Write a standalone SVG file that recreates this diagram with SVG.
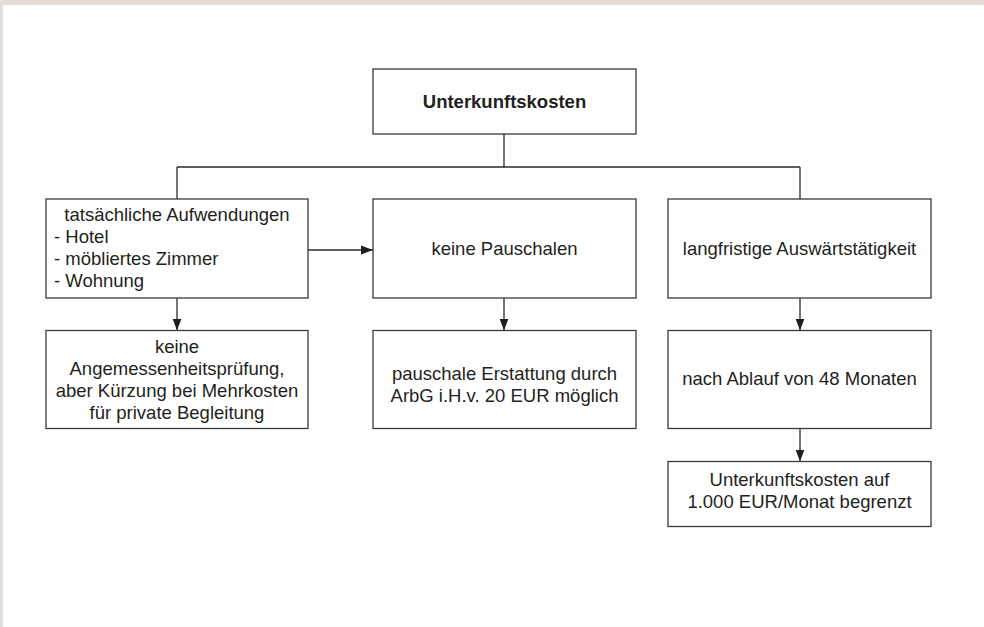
<svg xmlns="http://www.w3.org/2000/svg" width="984" height="627" viewBox="0 0 984 627">
  <style>
    .box { fill: #ffffff; stroke: #3a3a3a; stroke-width: 1.3; }
    .line { fill: none; stroke: #2b2b2b; stroke-width: 1.3; }
    text { font-family: "Liberation Sans", Arial, Helvetica, sans-serif; font-size: 18.5px; fill: #231f20; }
    .c { text-anchor: middle; }
    .b { font-weight: bold; }
  </style>
  <defs>
    <marker id="arrow" viewBox="0 0 12 10" refX="12" refY="5" markerWidth="12" markerHeight="10" markerUnits="userSpaceOnUse" orient="auto">
      <path d="M0,0.5 L12,5 L0,9.5 Z" fill="#1e1e1e"/>
    </marker>
  </defs>

  <!-- page frame -->
  <rect x="0" y="0" width="984" height="627" fill="#e2ddd9"/>
  <rect x="3" y="5" width="981" height="622" fill="#ffffff"/>

  <!-- connectors -->
  <g id="connectors">
    <path class="line" d="M504,134 V167 M177,167 H800 M177,167 V199 M800,167 V199"/>
    <path class="line" d="M308,250 H373" marker-end="url(#arrow)"/>
    <path class="line" d="M177,298 V330.5" marker-end="url(#arrow)"/>
    <path class="line" d="M504,298 V330.5" marker-end="url(#arrow)"/>
    <path class="line" d="M800,298 V330.5" marker-end="url(#arrow)"/>
    <path class="line" d="M800,428 V461.5" marker-end="url(#arrow)"/>
  </g>

  <g id="root">
    <rect class="box" x="373" y="69" width="263" height="65"/>
    <text class="c b" x="504.5" y="108">Unterkunftskosten</text>
  </g>

  <g id="actual-costs">
    <rect class="box" x="46" y="199" width="262" height="99"/>
    <text class="c" x="177" y="221">tatsächliche Aufwendungen</text>
    <text x="54" y="243">- Hotel</text>
    <text x="54" y="265">- möbliertes Zimmer</text>
    <text x="54" y="287">- Wohnung</text>
  </g>

  <g id="no-flat-rates">
    <rect class="box" x="373" y="199" width="263" height="99"/>
    <text class="c" x="504.5" y="255">keine Pauschalen</text>
  </g>

  <g id="long-term">
    <rect class="box" x="668" y="199" width="263" height="99"/>
    <text class="c" x="799.5" y="255">langfristige Auswärtstätigkeit</text>
  </g>

  <g id="no-check">
    <rect class="box" x="46" y="330.5" width="262" height="98"/>
    <text class="c" x="177" y="353">keine</text>
    <text class="c" x="177" y="375">Angemessenheitsprüfung,</text>
    <text class="c" x="177" y="397">aber Kürzung bei Mehrkosten</text>
    <text class="c" x="177" y="418.5">für private Begleitung</text>
  </g>

  <g id="flat-refund">
    <rect class="box" x="373" y="330.5" width="263" height="98"/>
    <text class="c" x="504.5" y="380">pauschale Erstattung durch</text>
    <text class="c" x="504.5" y="402">ArbG i.H.v. 20 EUR möglich</text>
  </g>

  <g id="after-48">
    <rect class="box" x="668" y="330.5" width="263" height="98"/>
    <text class="c" x="799.5" y="385">nach Ablauf von 48 Monaten</text>
  </g>

  <g id="capped">
    <rect class="box" x="668" y="461.5" width="263" height="65"/>
    <text class="c" x="799.5" y="486">Unterkunftskosten auf</text>
    <text class="c" x="799.5" y="508">1.000 EUR/Monat begrenzt</text>
  </g>
</svg>
